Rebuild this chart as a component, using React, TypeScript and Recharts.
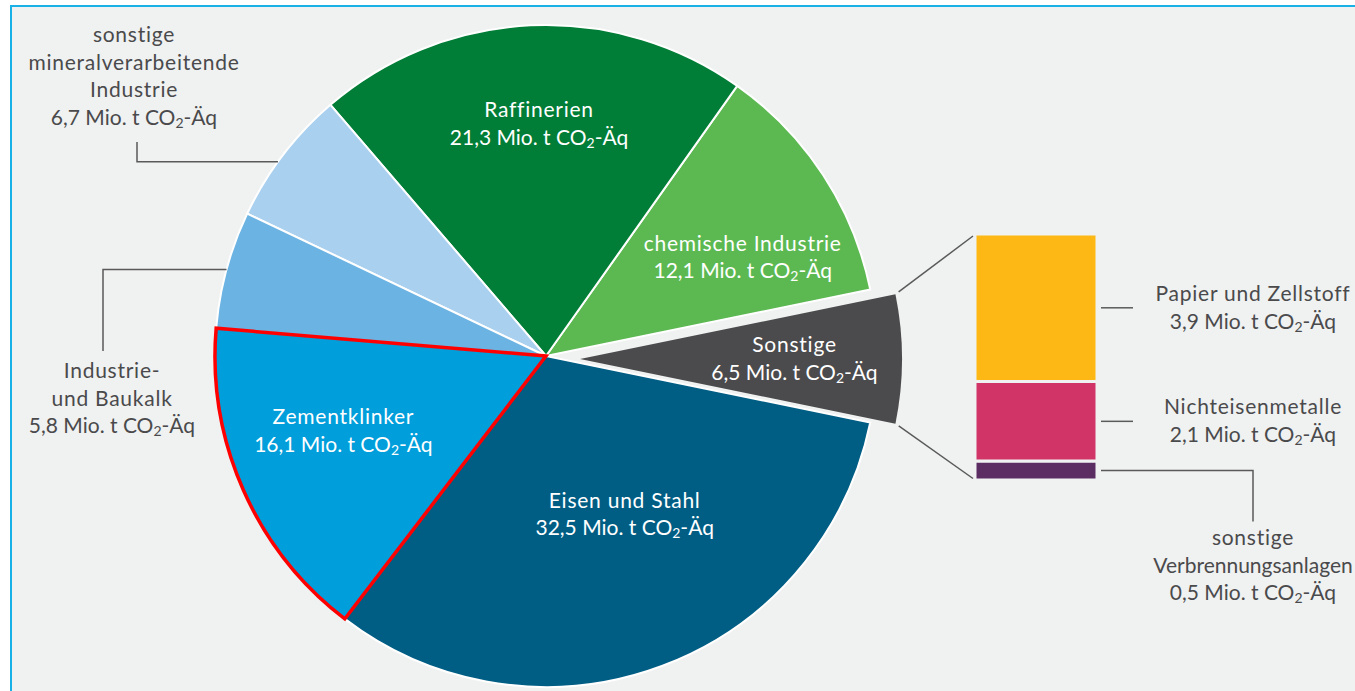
import React from 'react';
import { PieChart, Pie, Cell, BarChart, Bar, XAxis, YAxis, LabelList } from 'recharts';

// ---------- data ----------
const sectorNames = [
  'Sonstige',
  'chemische Industrie',
  'Raffinerien',
  'sonstige mineralverarbeitende Industrie',
  'Industrie- und Baukalk',
  'Zementklinker',
  'Eisen und Stahl',
];
const sectorValues = [6.5, 12.1, 21.3, 6.7, 5.8, 16.1, 32.5];
const sectorLabelLines = [
  ['Sonstige'],
  ['chemische Industrie'],
  ['Raffinerien'],
  ['sonstige', 'mineralverarbeitende', 'Industrie'],
  ['Industrie-', 'und Baukalk'],
  ['Zementklinker'],
  ['Eisen und Stahl'],
];
const sectorColors = ['#4B4B4D', '#5CB952', '#007D36', '#A9D0EF', '#6BB3E3', '#009EDB', '#005E85'];

const breakdownNames = ['sonstige Verbrennungsanlagen', 'Nichteisenmetalle', 'Papier und Zellstoff'];
const breakdownValues = [0.5, 2.1, 3.9];
const breakdownLabelLines = [['sonstige', 'Verbrennungsanlagen'], ['Nichteisenmetalle'], ['Papier und Zellstoff']];
const breakdownColors = ['#5C2D62', '#D13467', '#FDB815'];

const unitLabel = 'Mio. t CO2-Äq';

// ---------- layout / style ----------
const W = 1355;
const H = 691;
const BG = '#F0F1F1';
const FONT = 'Lato, "Open Sans", sans-serif';
const FS = 21;
const LH = 27.5;
const DARK = '#4A4A4C';
const LEADER = '#5A5A5A';
const TIGHT_LINES = ['Verbrennungsanlagen'];

const CX = 546;
const CY = 356;
const R = 331;
const EX_CX = 580;
const EX_CY = 359;
const EX_R = 322;

const BAR_X = 975;
const BAR_Y = 234;
const BAR_W = 122;
const BAR_H = 246;

// label placement: inside labels (angle offset from mid angle, radius) / outside labels with leader
const inLabel: Record<number, { da: number; r: number }> = {
  0: { da: 0, r: 214.5 },
  1: { da: -6.55, r: 220 },
  2: { da: -0.95, r: 232 },
  5: { da: -3.6, r: 216 },
  6: { da: 5.9, r: 177 },
};
const outLabel: Record<number, { da: number; elbowX: number; endY: number; textX: number; base: number }> = {
  3: { da: 1.5, elbowX: 137, endY: 142, textX: 134, base: 42 },
  4: { da: 0, elbowX: 103, endY: 351, textX: 112, base: 378 },
};

const total = sectorValues.reduce((a, b) => a + b, 0);
const startAngle = -(sectorValues[0] / total) * 180;
const endAngle = startAngle + 360;

const sectorData = sectorNames.map((name, i) => ({ name, value: sectorValues[i] }));
const barRow: Record<string, any> = { k: 'Sonstige' };
breakdownNames.forEach((_, i) => {
  barRow['b' + i] = breakdownValues[i];
});
const barData = [barRow];
const breakdownTotal = breakdownValues.reduce((a, b) => a + b, 0);

const fmt = (v: number) => v.toFixed(1).replace('.', ',') + ' ' + unitLabel;
const RAD = Math.PI / 180;
const polar = (cx: number, cy: number, r: number, a: number) => ({
  x: cx + r * Math.cos(a * RAD),
  y: cy - r * Math.sin(a * RAD),
});

function TextLine({ x, y, text, fill }: { x: number; y: number; text: string; fill: string }) {
  const idx = text.indexOf('CO2');
  if (idx < 0) {
    return (
      <text
        x={x}
        y={y}
        textAnchor="middle"
        fill={fill}
        fontSize={FS}
        fontFamily={FONT}
        letterSpacing={TIGHT_LINES.includes(text) ? 0 : 0.75}
        style={{ fontVariantLigatures: 'none' }}
      >
        {text}
      </text>
    );
  }
  const before = text.slice(0, idx + 2);
  const after = text.slice(idx + 3);
  return (
    <text x={x} y={y} textAnchor="middle" fill={fill} fontSize={FS} fontFamily={FONT}>
      <tspan>{before}</tspan>
      <tspan fontSize={14} dy={3}>2</tspan>
      <tspan dy={-3}>{after}</tspan>
    </text>
  );
}

function lines(arr: string[], value: number) {
  return [...arr, fmt(value)];
}

const renderSectorLabel = (props: any) => {
  const { cx, cy, midAngle, outerRadius, index } = props;
  if (inLabel[index] && index !== 0) {
    const l = inLabel[index];
    const c = polar(cx, cy, l.r, midAngle + l.da);
    const ls = lines(sectorLabelLines[index], sectorValues[index]);
    return (
      <g key={'lab' + index}>
        {ls.map((t, j) => (
          <TextLine key={j} x={c.x} y={c.y + 7 + (j - (ls.length - 1) / 2) * LH} text={t} fill="#FFFFFF" />
        ))}
      </g>
    );
  }
  if (outLabel[index]) {
    const l = outLabel[index];
    const p = polar(cx, cy, outerRadius, midAngle + l.da);
    const ls = lines(sectorLabelLines[index], sectorValues[index]);
    return (
      <g key={'lab' + index}>
        <polyline
          points={`${p.x},${p.y} ${l.elbowX},${p.y} ${l.elbowX},${l.endY}`}
          fill="none"
          stroke={LEADER}
          strokeWidth={1.5}
        />
        {ls.map((t, j) => (
          <TextLine key={j} x={l.textX} y={l.base + j * LH} text={t} fill={DARK} />
        ))}
      </g>
    );
  }
  return <g key={'lab' + index} />;
};

const renderSonstigeLabel = (props: any) => {
  const { cx, cy, midAngle, index } = props;
  if (index !== 0) return <g key={'s' + index} />;
  const l = inLabel[0];
  const c = polar(cx, cy, l.r, midAngle + l.da);
  const ls = lines(sectorLabelLines[0], sectorValues[0]);
  return (
    <g key={'s' + index}>
      {ls.map((t, j) => (
        <TextLine key={j} x={c.x} y={c.y + 7 + (j - (ls.length - 1) / 2) * LH} text={t} fill="#FFFFFF" />
      ))}
    </g>
  );
};

const breakdownLabel = (i: number) => (p: any) => {
  const vb = p.viewBox && p.viewBox.width != null ? p.viewBox : p;
  const x = Number(vb.x);
  const y = Number(vb.y);
  const w = Number(vb.width);
  const h = Number(vb.height);
  const right = x + w;
  const mid = y + h / 2;
  const tx = right + 156;
  const ls = lines(breakdownLabelLines[i], breakdownValues[i]);
  if (i === 0) {
    return (
      <g>
        <polyline
          points={`${right + 4},${mid} ${tx},${mid} ${tx},${mid + 51}`}
          fill="none"
          stroke={LEADER}
          strokeWidth={1.5}
        />
        {ls.map((t, j) => (
          <TextLine key={j} x={tx} y={mid + 74.5 + j * LH} text={t} fill={DARK} />
        ))}
      </g>
    );
  }
  return (
    <g>
      <line x1={right + 4} y1={mid} x2={right + 36} y2={mid} stroke={LEADER} strokeWidth={1.5} />
      {ls.map((t, j) => (
        <TextLine key={j} x={tx} y={mid - 7 + j * 28} text={t} fill={DARK} />
      ))}
    </g>
  );
};

export default function App() {
  const half = (sectorValues[0] / total) * 180;
  const topC = polar(EX_CX, EX_CY, EX_R, half);
  const botC = polar(EX_CX, EX_CY, EX_R, -half);
  const barTop = { x: BAR_X - 2, y: BAR_Y + 2 };
  const barBot = { x: BAR_X - 2, y: BAR_Y + BAR_H - 1.5 };
  const shift = (a: { x: number; y: number }, b: { x: number; y: number }, d: number) => {
    const len = Math.hypot(b.x - a.x, b.y - a.y);
    return { x: a.x + ((b.x - a.x) / len) * d, y: a.y + ((b.y - a.y) / len) * d };
  };
  const t1 = shift(topC, barTop, 4);
  const b1 = shift(botC, barBot, 4);

  return (
    <div
      style={{
        position: 'absolute',
        left: 0,
        top: 0,
        width: W,
        height: H,
        overflow: 'hidden',
        background: '#FFFFFF',
        fontFamily: FONT,
      }}
    >
      <div
        style={{
          position: 'absolute',
          left: 10,
          top: 5,
          width: W + 20,
          height: H + 20,
          borderTop: '2px solid #1AB1E6',
          borderLeft: '2px solid #1AB1E6',
          background: BG,
        }}
      />
      <div style={{ position: 'absolute', left: 0, top: 0 }}>
        <PieChart width={W} height={H} margin={{ top: 0, right: 0, bottom: 0, left: 0 }}>
          <Pie
            data={sectorData}
            dataKey="value"
            nameKey="name"
            cx={CX}
            cy={CY}
            innerRadius={0}
            outerRadius={R}
            startAngle={startAngle}
            endAngle={endAngle}
            isAnimationActive={false}
            labelLine={false}
            label={renderSectorLabel}
          >
            {sectorData.map((_, i) => (
              <Cell
                key={i}
                fill={i === 0 ? 'none' : sectorColors[i]}
                stroke={i === 0 ? 'none' : '#FFFFFF'}
                strokeWidth={2}
              />
            ))}
          </Pie>
          <Pie
            data={sectorData}
            dataKey="value"
            nameKey="name"
            cx={EX_CX}
            cy={EX_CY}
            innerRadius={0}
            outerRadius={EX_R}
            startAngle={startAngle}
            endAngle={endAngle}
            isAnimationActive={false}
            labelLine={false}
            label={renderSonstigeLabel}
          >
            {sectorData.map((_, i) => (
              <Cell key={i} fill={i === 0 ? sectorColors[0] : 'none'} stroke="none" />
            ))}
          </Pie>
          <Pie
            data={sectorData}
            dataKey="value"
            nameKey="name"
            cx={CX}
            cy={CY}
            innerRadius={0}
            outerRadius={R}
            startAngle={startAngle}
            endAngle={endAngle}
            isAnimationActive={false}
            labelLine={false}
          >
            {sectorData.map((_, i) => (
              <Cell
                key={i}
                fill="none"
                stroke={sectorNames[i] === 'Zementklinker' ? '#FF0000' : 'none'}
                strokeWidth={3.5}
              />
            ))}
          </Pie>
        </PieChart>
      </div>
      <div style={{ position: 'absolute', left: BAR_X, top: BAR_Y }}>
        <BarChart
          width={W - BAR_X}
          height={H - BAR_Y}
          data={barData}
          margin={{ top: 0, left: 0, right: W - BAR_X - BAR_W, bottom: H - BAR_Y - BAR_H }}
          barCategoryGap={0}
          barGap={0}
        >
          <XAxis dataKey="k" hide />
          <YAxis hide domain={[0, breakdownTotal]} />
          {breakdownNames.map((n, i) => (
            <Bar
              key={n}
              dataKey={'b' + i}
              stackId="s"
              fill={breakdownColors[i]}
              stroke={BG}
              strokeWidth={3}
              isAnimationActive={false}
            >
              <LabelList dataKey={'b' + i} content={breakdownLabel(i)} />
            </Bar>
          ))}
        </BarChart>
      </div>
      <svg
        width={W}
        height={H}
        style={{ position: 'absolute', left: 0, top: 0, pointerEvents: 'none' }}
      >
        <line x1={t1.x} y1={t1.y} x2={barTop.x} y2={barTop.y} stroke={LEADER} strokeWidth={1.5} />
        <line x1={b1.x} y1={b1.y} x2={barBot.x} y2={barBot.y} stroke={LEADER} strokeWidth={1.5} />
      </svg>
    </div>
  );
}
